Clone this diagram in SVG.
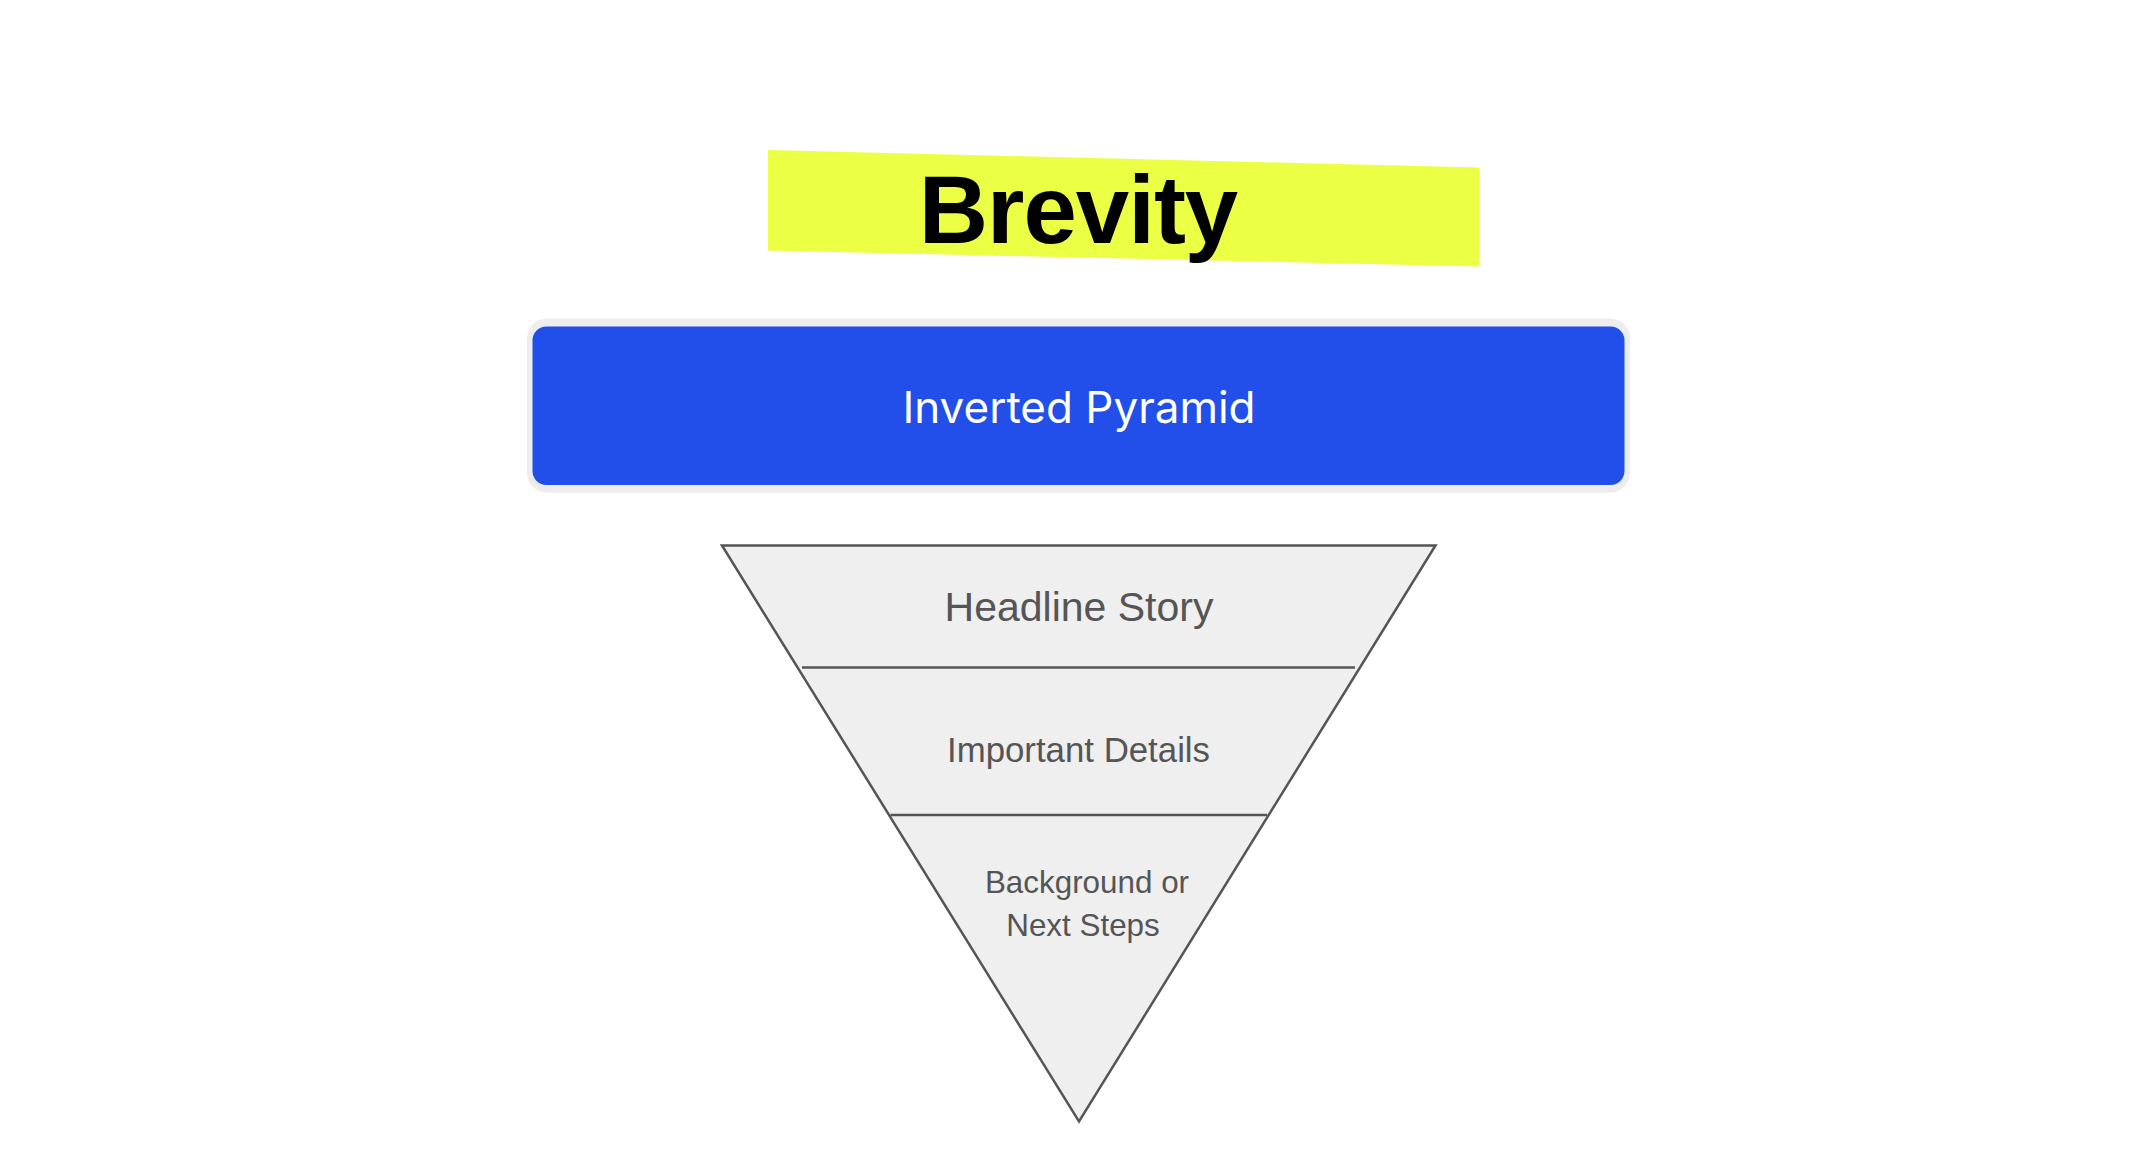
<svg xmlns="http://www.w3.org/2000/svg" width="2150" height="1158" viewBox="0 0 2150 1158">
  <style>
    .lbl { font-family: "Liberation Sans", Arial, sans-serif; fill: #555555; text-anchor: middle; }
    .edge { stroke: #555555; stroke-width: 2.5; fill: none; }
  </style>
  <rect x="0" y="0" width="2150" height="1158" fill="#ffffff"/>
  <g id="title">
    <polygon points="768,150 1479,167.5 1479,266.5 768,250.5" fill="#ebff45"/>
    <text x="1078" y="243" font-family="'Liberation Sans', Arial, sans-serif" font-weight="bold" font-size="96" letter-spacing="-1" fill="#000000" text-anchor="middle">Brevity</text>
  </g>
  <g id="inverted-pyramid">
    <rect x="527" y="318.5" width="1103" height="174" rx="20" fill="#ededf0"/>
    <rect x="532.5" y="326.5" width="1092" height="158.5" rx="14" fill="#224ee9"/>
    <text x="1079" y="422.5" font-family="Inter, 'Liberation Sans', sans-serif" font-size="44" fill="#ffffff" text-anchor="middle">Inverted Pyramid</text>
  </g>
  <g id="pyramid">
    <polygon points="722,545.5 1435.5,545.5 1079,1121.5" fill="#efefef" stroke="#555555" stroke-width="2.5" stroke-linejoin="miter"/>
  </g>
  <g id="connectors">
    <line class="edge" x1="802" y1="667.5" x2="1355" y2="667.5"/>
    <line class="edge" x1="890.5" y1="815" x2="1267" y2="815"/>
  </g>
  <g id="headline-story">
    <text class="lbl" x="1079" y="620.5" font-size="41">Headline Story</text>
  </g>
  <g id="important-details">
    <text class="lbl" x="1078.5" y="761.5" font-size="34.8">Important Details</text>
  </g>
  <g id="background-next-steps">
    <text class="lbl" x="1087" y="892.5" font-size="31.4">Background or</text>
    <text class="lbl" x="1083" y="936" font-size="31.4">Next Steps</text>
  </g>
</svg>
